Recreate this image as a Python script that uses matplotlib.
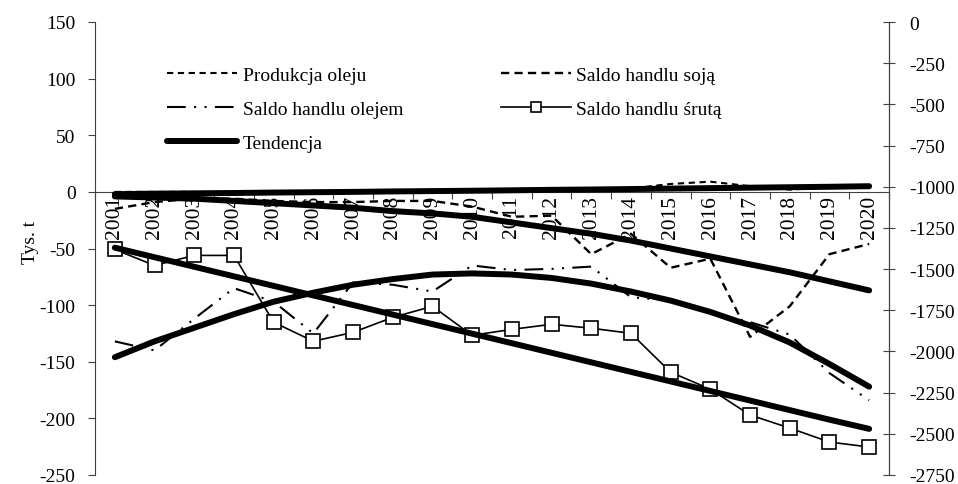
import numpy as np
import matplotlib
matplotlib.use("Agg")
import matplotlib.pyplot as plt

plt.rcParams['font.family'] = ['Liberation Serif', 'DejaVu Serif']
plt.rcParams['axes.unicode_minus'] = False

# Data (tys. t)
years = [str(y) for y in range(2001, 2021)]
produkcja = [0, 0, 0, 0, 0, 0, 1, 1, 1, 1, 1, 2, 2, 3, 7, 9, 5, 2, 4, 5]
soja = [-15, -9, -6, -6, -8, -9, -9, -8, -8, -13, -22, -21, -55, -37, -67, -59, -128, -101, -55, -46]
olej = [-132, -140, -112, -85, -97, -125, -80, -82, -88, -65, -69, -68, -66, -93, -96, -107, -115, -126, -160, -184]
sruta = [-1381, -1478, -1417, -1417, -1823, -1938, -1884, -1793, -1726, -1902,
         -1866, -1835, -1859, -1890, -2126, -2229, -2386, -2465, -2550, -2580]

# Tendencje
tr_produkcja = [-2, -1.6, -1.3, -1, -0.6, -0.3, 0, 0.4, 0.7, 1, 1.4, 1.8, 2.1, 2.5, 2.9, 3.3, 3.7, 4.1, 4.5, 5]
tr_soja = [-4, -5, -6, -8, -10, -12, -14, -17, -19, -22, -27, -32, -37, -43, -50, -57, -64, -71, -79, -87]
tr_olej = [-146, -132, -120, -108, -97, -89, -82, -77, -73, -72, -73, -76, -81, -88, -96, -106, -118, -133, -152, -172]
tr_sruta = [-1370, -1428, -1486, -1544, -1602, -1660, -1718, -1776, -1834, -1892,
            -1950, -2008, -2066, -2124, -2182, -2240, -2298, -2356, -2414, -2470]

x = np.arange(len(years))
W, H = 958, 485
fig = plt.figure(figsize=(W / 100, H / 100), dpi=100)
ax = fig.add_axes([95 / W, 1 - 476 / H, (889 - 95) / W, (476 - 23) / H])
ax2 = ax.twinx()

fs = 14
trend_kw = dict(color='black', lw=4.3, solid_capstyle='round', zorder=4)

l1, = ax.plot(x, produkcja, color='black', lw=1.5, dashes=(3, 2.2), label='Produkcja oleju')
l2, = ax.plot(x, olej, color='black', lw=1.5, dashes=(9, 4, 1, 4, 1, 4), label='Saldo handlu olejem')
l4, = ax.plot(x, soja, color='black', lw=1.7, dashes=(3.5, 2.2), label='Saldo handlu soją')
l3, = ax.plot(x, tr_produkcja, label='Tendencja', **trend_kw)
ax.plot(x, tr_soja, **trend_kw)
ax.plot(x, tr_olej, **trend_kw)

l5, = ax2.plot(x, sruta, color='black', lw=1.2, marker='s', ms=10, mfc='white',
               mec='black', mew=1.2, label='Saldo handlu śrutą')
ax2.plot(x, tr_sruta, **trend_kw)

# left axis
ax.set_xlim(-0.5, len(years) - 0.5)
ax.set_ylim(-250, 150)
ax.set_yticks(np.arange(-250, 151, 50))
ax.set_ylabel('Tys. t', fontsize=fs)
ax.yaxis.set_label_coords(-0.071, 0.515)
ax.tick_params(axis='y', direction='out', length=5, width=0.8, colors='#404040',
               labelcolor='black', labelsize=fs, pad=9)

# category axis at zero
ax.spines['bottom'].set_position(('data', 0))
ax.spines['top'].set_visible(False)
ax.set_xticks(np.arange(-0.5, len(years), 1.0))
ax.set_xticklabels([])
ax.set_xticks(x, minor=True)
ax.set_xticklabels(years, minor=True, rotation=90, fontsize=15.5, va='top')
ax.tick_params(axis='x', which='major', direction='out', length=5, width=0.8, colors='#404040')
ax.tick_params(axis='x', which='minor', length=0, pad=2, labelcolor='black')

for s in ['left', 'bottom']:
    ax.spines[s].set_color('#404040')
    ax.spines[s].set_linewidth(0.8)

# right axis
ax2.set_ylim(-2750, 0)
ax2.set_yticks(np.arange(-2750, 1, 250))
ax2.tick_params(axis='y', direction='inout', length=9, width=0.8, colors='#404040',
                labelcolor='black', labelsize=fs, pad=10)
for s in ['top', 'left', 'bottom']:
    ax2.spines[s].set_visible(False)
ax2.spines['right'].set_color('#404040')
ax2.spines['right'].set_linewidth(0.8)

leg = ax2.legend(handles=[l1, l2, l3, l4, l5], ncol=2, loc='upper left',
                 bbox_to_anchor=(167 / W, 1 - 67 / H), bbox_transform=fig.transFigure,
                 frameon=False, fontsize=fs, handlelength=3.6, handletextpad=0.3,
                 columnspacing=5.0, labelspacing=0.86, borderpad=0, borderaxespad=0,
                 markerscale=0.7)

fig.savefig('out.png', dpi=100)
